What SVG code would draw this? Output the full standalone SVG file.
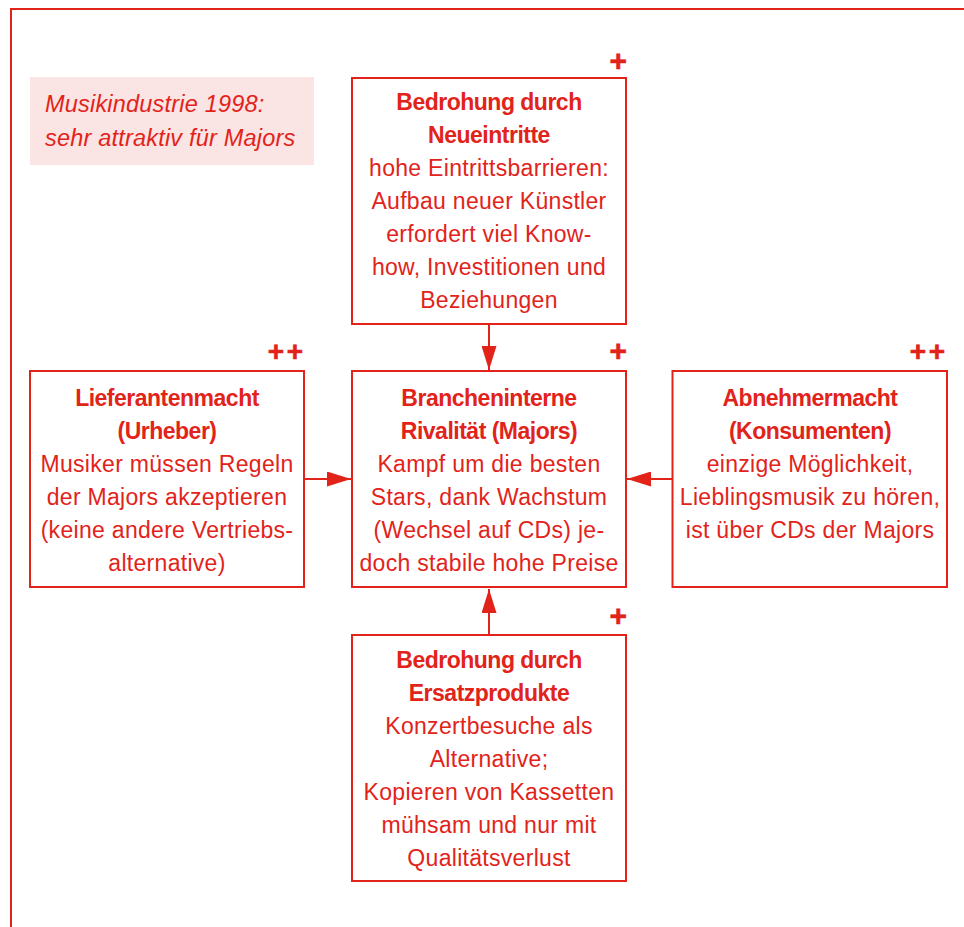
<svg xmlns="http://www.w3.org/2000/svg" width="964" height="927" viewBox="0 0 964 927">
<defs>
<style>
.box{fill:#ffffff;stroke:#e2231a;stroke-width:2}
.t{font-family:"Liberation Sans",Arial,sans-serif;fill:#e2231a;text-anchor:middle}
.h{font-size:23px;font-weight:bold;letter-spacing:-0.5px}
.b{font-size:23px;letter-spacing:0.3px}
.p{font-family:"Liberation Sans",Arial,sans-serif;fill:#e2231a;stroke:#e2231a;stroke-width:0.6;font-size:30px;font-weight:bold;text-anchor:end}
.pp{font-size:28px;letter-spacing:2.5px}
.note{font-family:"Liberation Sans",Arial,sans-serif;fill:#e2231a;font-size:23.5px;font-style:italic;letter-spacing:0.2px}
.c{stroke:#e2231a;stroke-width:2;fill:none}
</style>
<marker id="ah" markerUnits="userSpaceOnUse" markerWidth="25" markerHeight="15" refX="24" refY="7.5" orient="auto">
<path d="M0,0 L24,7.5 L0,15 z" fill="#e2231a"/>
</marker>
</defs>
<rect width="964" height="927" fill="#ffffff"/>
<g id="frame">
<path class="c" d="M11,927 L11,9 L964,9" stroke-width="2.4"/>
</g>
<g id="note">
<rect x="30" y="77" width="284" height="88" fill="#fbe4e4"/>
<text class="note" x="45" y="112">Musikindustrie 1998:</text>
<text class="note" x="45" y="146">sehr attraktiv für Majors</text>
</g>
<g id="connectors">
<line class="c" x1="489" y1="324" x2="489" y2="370" marker-end="url(#ah)"/>
<line class="c" x1="304" y1="479" x2="351" y2="479" marker-end="url(#ah)"/>
<line class="c" x1="672" y1="479" x2="627" y2="479" marker-end="url(#ah)"/>
<line class="c" x1="489" y1="635" x2="489" y2="589" marker-end="url(#ah)"/>
</g>
<g id="neueintritte">
<rect class="box" x="352" y="78" width="274" height="246"/>
<text class="p" x="627" y="71">+</text>
<text class="t h" x="489" y="110">Bedrohung durch</text>
<text class="t h" x="489" y="143">Neueintritte</text>
<text class="t b" x="489" y="176">hohe Eintrittsbarrieren:</text>
<text class="t b" x="489" y="209">Aufbau neuer Künstler</text>
<text class="t b" x="489" y="242">erfordert viel Know-</text>
<text class="t b" x="489" y="275">how, Investitionen und</text>
<text class="t b" x="489" y="308">Beziehungen</text>
</g>
<g id="lieferanten">
<rect class="box" x="30" y="371" width="274" height="216"/>
<text class="p pp" x="305.5" y="360.5">++</text>
<text class="t h" x="167" y="406">Lieferantenmacht</text>
<text class="t h" x="167" y="439">(Urheber)</text>
<text class="t b" x="167" y="472">Musiker müssen Regeln</text>
<text class="t b" x="167" y="505">der Majors akzeptieren</text>
<text class="t b" x="167" y="538">(keine andere Vertriebs-</text>
<text class="t b" x="167" y="571">alternative)</text>
</g>
<g id="rivalitaet">
<rect class="box" x="352" y="371" width="274" height="216"/>
<text class="p" x="627" y="361">+</text>
<text class="t h" x="489" y="406">Brancheninterne</text>
<text class="t h" x="489" y="439">Rivalität (Majors)</text>
<text class="t b" x="489" y="472">Kampf um die besten</text>
<text class="t b" x="489" y="505">Stars, dank Wachstum</text>
<text class="t b" x="489" y="538">(Wechsel auf CDs) je-</text>
<text class="t b" x="489" y="571">doch stabile hohe Preise</text>
</g>
<g id="abnehmer">
<rect class="box" x="672.5" y="371" width="274.5" height="216"/>
<text class="p pp" x="947.5" y="360.5">++</text>
<text class="t h" x="810" y="406">Abnehmermacht</text>
<text class="t h" x="810" y="439">(Konsumenten)</text>
<text class="t b" x="810" y="472">einzige Möglichkeit,</text>
<text class="t b" x="810" y="505">Lieblingsmusik zu hören,</text>
<text class="t b" x="810" y="538">ist über CDs der Majors</text>
</g>
<g id="ersatzprodukte">
<rect class="box" x="352" y="635" width="274" height="246"/>
<text class="p" x="627" y="626">+</text>
<text class="t h" x="489" y="668">Bedrohung durch</text>
<text class="t h" x="489" y="701">Ersatzprodukte</text>
<text class="t b" x="489" y="734">Konzertbesuche als</text>
<text class="t b" x="489" y="767">Alternative;</text>
<text class="t b" x="489" y="800">Kopieren von Kassetten</text>
<text class="t b" x="489" y="833">mühsam und nur mit</text>
<text class="t b" x="489" y="866">Qualitätsverlust</text>
</g>
</svg>
